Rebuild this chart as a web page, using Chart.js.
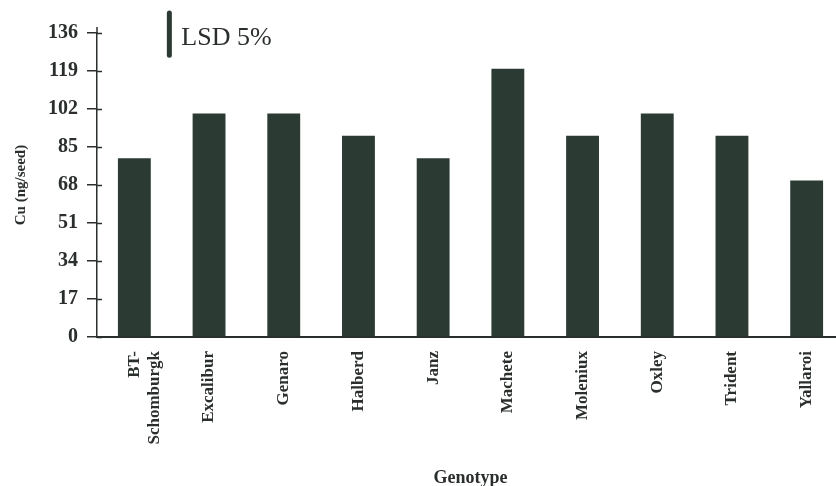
<!DOCTYPE html>
<html>
<head>
<meta charset="utf-8">
<script src="https://cdn.jsdelivr.net/npm/chart.js@4/dist/chart.umd.min.js"></script>
<style>
html,body{margin:0;padding:0;background:#fff;overflow:hidden;}
#wrap{position:relative;width:860px;height:486px;}
</style>
</head>
<body>
<div id="wrap"><canvas id="c"></canvas></div>
<script>
const genotypes = [["BT-","Schomburgk"],"Excalibur","Genaro","Halberd","Janz","Machete","Moleniux","Oxley","Trident","Yallaroi"];
const cuValues = [80,100,100,90,80,120,90,100,90,70];
const yTicks = [0,17,34,51,68,85,102,119,136];
const lsdValue = 19;
const lsdLabel = "LSD 5%";
const xTitle = "Genotype";
const yTitle = "Cu (ng/seed)";

const ink = "#2a2f2c";
const barColor = "#2b3a33";

const crossTicks = {
  id:'crossTicks',
  afterDraw(chart){
    const ctx = chart.ctx, y = chart.scales.y, x = chart.scales.x;
    ctx.save();
    ctx.strokeStyle = ink; ctx.lineWidth = 1.5;
    const ax = chart.chartArea.left;
    yTicks.forEach(v=>{
      const py = Math.round(y.getPixelForValue(v))+0.5;
      ctx.beginPath(); ctx.moveTo(ax, py); ctx.lineTo(ax+5, py); ctx.stroke();
    });
    ctx.beginPath(); ctx.moveTo(ax, y.getPixelForValue(136)); ctx.lineTo(ax, y.getPixelForValue(136)-6); ctx.stroke();
    const lx = x.getPixelForValue(0) + 35;
    const top = y.getPixelForValue(145), bot = y.getPixelForValue(145 - lsdValue);
    ctx.strokeStyle = barColor; ctx.lineWidth = 5; ctx.lineCap = 'round';
    ctx.beginPath(); ctx.moveTo(lx, top); ctx.lineTo(lx, bot); ctx.stroke();
    ctx.fillStyle = ink;
    ctx.font = '26px "Liberation Serif", serif';
    ctx.textBaseline = 'middle'; ctx.textAlign = 'left';
    ctx.fillText(lsdLabel, lx + 12, (top+bot)/2 + 4);
    ctx.restore();
  }
};

new Chart(document.getElementById('c'), {
  type:'bar',
  data:{ labels: genotypes, datasets:[{ data: cuValues, backgroundColor: barColor, borderWidth:0, categoryPercentage:1, barPercentage:0.44 }]},
  options:{
    responsive:true, maintainAspectRatio:false, animation:false,
    devicePixelRatio:1,
    layout:{ padding:{ left:12, right:16, top:33, bottom:0 } },
    plugins:{ legend:{display:false}, tooltip:{enabled:false} },
    scales:{
      x:{
        grid:{ display:false, drawTicks:false },
        border:{ display:true, color: ink, width:2 },
        ticks:{ minRotation:90, maxRotation:90, autoSkip:false, padding:14, color: ink,
          font:{ family:'"Liberation Serif", serif', size:17, weight:'bold', lineHeight:1.2 } },
        title:{ display:true, text:xTitle, color: ink, padding:{top:0,bottom:0},
          font:{ family:'"Liberation Serif", serif', size:18, weight:'bold', lineHeight:0.9 } },
        afterFit(s){ s.height = 149; }
      },
      y:{
        min:0, max:136,
        afterBuildTicks(s){ s.ticks = yTicks.map(v=>({value:v})); },
        grid:{ drawOnChartArea:false, drawTicks:true, tickLength:10, color: ink, lineWidth:1.5 },
        border:{ display:true, color: ink, width:1.5 },
        ticks:{ padding:9, color: ink, font:{ family:'"Liberation Serif", serif', size:20, weight:'bold' } },
        title:{ display:true, text:yTitle, color: ink, padding:{top:0,bottom:0},
          font:{ family:'"Liberation Serif", serif', size:15, weight:'bold' } },
        afterFit(s){ s.width = 85; }
      }
    }
  },
  plugins:[crossTicks]
});
</script>
</body>
</html>
